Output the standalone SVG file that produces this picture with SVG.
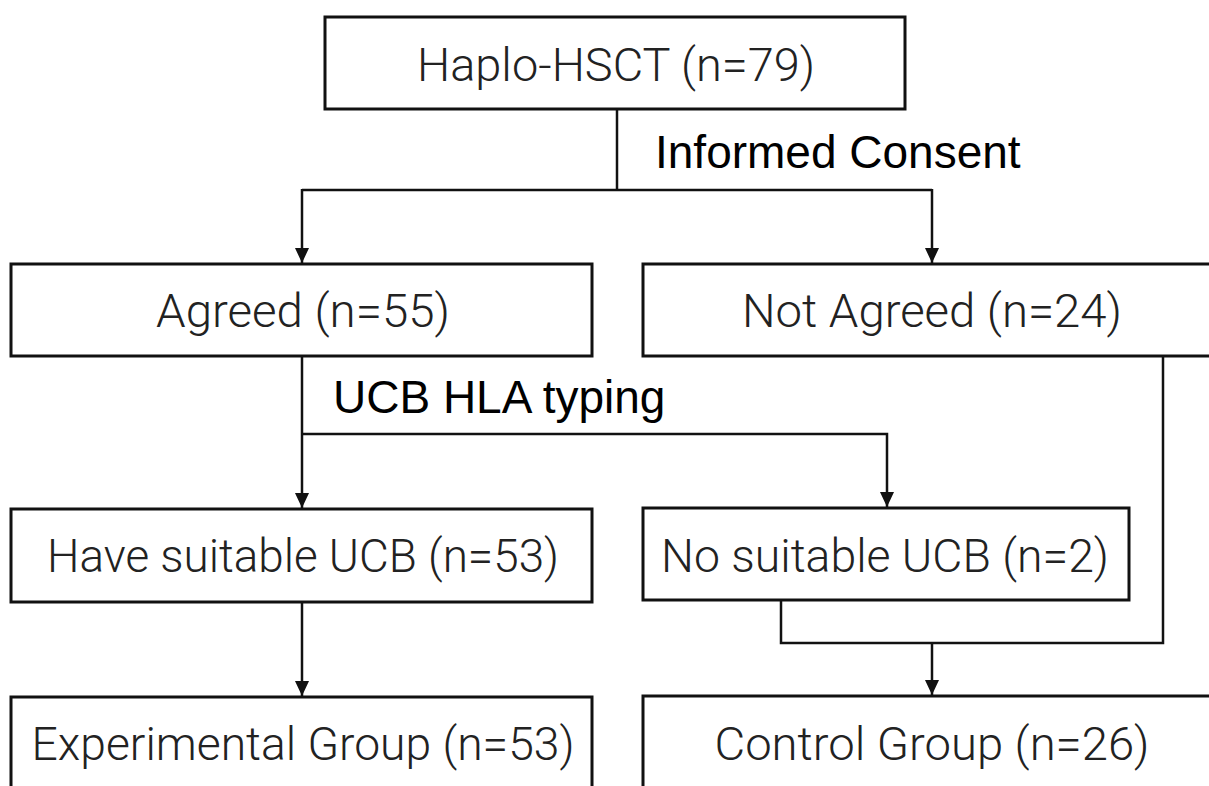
<svg xmlns="http://www.w3.org/2000/svg" width="1209" height="786" viewBox="0 0 1209 786">
<style>
.box{fill:#fff;stroke:#111;stroke-width:3}
.nt{font-family:Roboto,"Noto Sans",sans-serif;font-weight:300;font-size:46px;fill:#222;text-anchor:middle}
.lbl{font-family:"Liberation Sans",Arial,sans-serif;font-size:46px;fill:#000}
.ln{fill:none;stroke:#111;stroke-width:2.5}
</style>
<defs>
<marker id="ah" markerUnits="userSpaceOnUse" markerWidth="15" markerHeight="14" viewBox="0 0 15 14" refX="15" refY="7" orient="auto">
<path d="M0,0 L15,7 L0,14 Z" fill="#111"/>
</marker>
</defs>
<rect width="1209" height="786" fill="#fff"/>
<g id="connectors">
<path class="ln" d="M617,109 V190"/>
<path class="ln" d="M302,190 H932"/>
<path class="ln" d="M302,189 V263" marker-end="url(#ah)"/>
<path class="ln" d="M932,189 V263" marker-end="url(#ah)"/>
<path class="ln" d="M302,356 V508" marker-end="url(#ah)"/>
<path class="ln" d="M302,434 H887 V507" marker-end="url(#ah)"/>
<path class="ln" d="M302,602 V696" marker-end="url(#ah)"/>
<path class="ln" d="M781,600 V643 H1163 V356"/>
<path class="ln" d="M932,643 V695" marker-end="url(#ah)"/>
</g>
<g id="haplo">
<rect class="box" x="325" y="17" width="580" height="92"/>
<text class="nt" x="616" y="81" textLength="398" lengthAdjust="spacingAndGlyphs">Haplo-HSCT (n=79)</text>
</g>
<g id="label-consent">
<text class="lbl" x="655" y="168">Informed Consent</text>
</g>
<g id="agreed">
<rect class="box" x="11" y="264" width="581" height="92"/>
<text class="nt" x="303" y="327" textLength="294" lengthAdjust="spacingAndGlyphs">Agreed (n=55)</text>
</g>
<g id="notagreed">
<rect class="box" x="643" y="264" width="600" height="92"/>
<text class="nt" x="932" y="327" textLength="380" lengthAdjust="spacingAndGlyphs">Not Agreed (n=24)</text>
</g>
<g id="label-ucb">
<text class="lbl" x="333" y="413">UCB HLA typing</text>
</g>
<g id="have">
<rect class="box" x="11" y="509" width="581" height="93"/>
<text class="nt" x="303" y="572" textLength="512" lengthAdjust="spacingAndGlyphs">Have suitable UCB (n=53)</text>
</g>
<g id="nosuitable">
<rect class="box" x="643" y="508" width="486" height="92"/>
<text class="nt" x="885" y="572" textLength="448" lengthAdjust="spacingAndGlyphs">No suitable UCB (n=2)</text>
</g>
<g id="experimental">
<rect class="box" x="11" y="697" width="581" height="120"/>
<text class="nt" x="303" y="760" textLength="543" lengthAdjust="spacingAndGlyphs">Experimental Group (n=53)</text>
</g>
<g id="control">
<rect class="box" x="643" y="696" width="600" height="120"/>
<text class="nt" x="932" y="760" textLength="435" lengthAdjust="spacingAndGlyphs">Control Group (n=26)</text>
</g>
</svg>
